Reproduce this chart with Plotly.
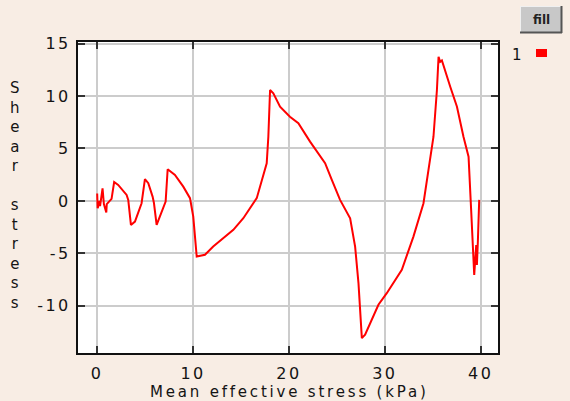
import plotly.graph_objects as go

# ---- data ----
mean_stress = [0, 0.05, 0.25, 0.3, 0.56, 0.7, 0.95, 1.0, 1.5, 1.77, 2.19, 3.07, 3.24, 3.52, 3.94,
               4.63, 4.98, 5.33, 5.78, 5.92, 6.2, 6.47, 7.0, 7.14, 7.35, 8.11, 8.98, 9.68,
               10.02, 10.2, 10.38, 11.24, 12.1, 14.2, 15.24, 16.64, 17.68, 17.85, 18.03, 18.37,
               19.07, 20.1, 20.98, 22.2, 23.77, 24.47, 25.33, 26.38, 26.9, 27.25, 27.42, 27.6,
               27.94, 29.33, 30.2, 31.77, 32.98, 34.03, 34.55, 35.07, 35.43, 35.6, 35.77, 35.95,
               36.82, 37.52, 38.2, 38.73, 39.0, 39.18, 39.32, 39.53, 39.6, 39.7, 39.84]
shear_stress = [0.7, -0.7, 0.0, -0.5, 1.2, -0.3, -1.1, -0.3, 0.2, 1.8, 1.52, 0.57, 0.1, -2.29, -1.97,
                -0.22, 2.07, 1.69, 0.41, -0.2, -2.29, -1.65, -0.54, -0.07, 3.02, 2.48, 1.36, 0.26,
                -1.5, -3.4, -5.3, -5.14, -4.35, -2.76, -1.65, 0.26, 3.59, 6.12, 10.57, 10.26,
                8.98, 8.03, 7.4, 5.65, 3.59, 2.0, 0.1, -1.65, -4.35, -7.84, -10.7, -13.08,
                -12.76, -9.9, -8.8, -6.57, -3.4, -0.22, 2.95, 6.12, 10.57, 13.74, 13.27, 13.4,
                10.88, 8.98, 6.12, 4.22, -0.86, -4.0, -7.05, -4.2, -6.1, -3.9, 0.1]
x_ticks = [0, 10, 20, 30, 40]
y_ticks = [-10, -5, 0, 5, 10, 15]
series_name = "1"
x_title = "Mean effective stress (kPa)"
y_title = "Shear stress"
button_label = "fill"

W, H = 570, 401
L, R, T, B = 78, 72, 42, 48
PW, PH = W - L - R, H - T - B


def px_x(px):
    return (px - L) / PW


def px_y(py):
    return (H - B - py) / PH


def spaced(s, sp):
    return '<span style="letter-spacing:%spx">%s</span>' % (sp, s)


FONT = "DejaVu Sans"
TXT = "#141414"

fig = go.Figure()
fig.add_trace(go.Scatter(x=mean_stress, y=shear_stress, mode="lines",
                         line=dict(color="#ff0000", width=2), name=series_name,
                         showlegend=False))

axis_common = dict(showgrid=True, gridcolor="#cccccc", gridwidth=2, zeroline=False,
                   showline=True, linecolor="#111111", linewidth=2, mirror="ticks",
                   ticks="inside", ticklen=7, tickwidth=1.5, tickcolor="#333333",
                   tickfont=dict(family=FONT, size=16, color=TXT))

fig.update_xaxes(range=[-2.0, 41.8], tickvals=x_ticks,
                 ticktext=[spaced(str(v), 2.5) for v in x_ticks],
                 ticklabelstandoff=5, **axis_common)
fig.update_yaxes(range=[-14.5, 15.15], tickvals=y_ticks,
                 ticktext=[spaced(str(v), 2.5) for v in y_ticks],
                 ticklabelstandoff=2, **axis_common)

annotations = [
    dict(text=spaced(x_title, 2.8), x=px_x(289), y=px_y(392), xref="paper", yref="paper",
         showarrow=False, font=dict(family=FONT, size=15, color=TXT),
         xanchor="center", yanchor="middle"),
    dict(text="<br>".join(y_title), x=px_x(15), y=px_y(195),
         xref="paper", yref="paper", showarrow=False,
         font=dict(family=FONT, size=15, color=TXT), xanchor="center", yanchor="middle"),
    dict(text=series_name, x=px_x(517), y=px_y(55), xref="paper", yref="paper",
         showarrow=False, font=dict(family=FONT, size=15, color=TXT),
         xanchor="center", yanchor="middle"),
    dict(text="<b>" + button_label + "</b>", x=px_x(541), y=px_y(20), xref="paper", yref="paper",
         showarrow=False, font=dict(family=FONT, size=12, color="#222222"),
         xanchor="center", yanchor="middle"),
]

shapes = [
    # legend swatch
    dict(type="rect", xref="paper", yref="paper", x0=px_x(536), x1=px_x(547),
         y0=px_y(57), y1=px_y(49), fillcolor="#ff0000", line=dict(width=0)),
    # button body
    dict(type="rect", xref="paper", yref="paper", x0=px_x(520), x1=px_x(562),
         y0=px_y(33), y1=px_y(6), fillcolor="#c8c8c8", line=dict(width=0)),
    dict(type="line", xref="paper", yref="paper", x0=px_x(520), x1=px_x(562),
         y0=px_y(6.5), y1=px_y(6.5), line=dict(color="#f0f0f0", width=1)),
    dict(type="line", xref="paper", yref="paper", x0=px_x(520.5), x1=px_x(520.5),
         y0=px_y(6), y1=px_y(33), line=dict(color="#f0f0f0", width=1)),
    dict(type="line", xref="paper", yref="paper", x0=px_x(520), x1=px_x(562),
         y0=px_y(32.5), y1=px_y(32.5), line=dict(color="#555555", width=2)),
    dict(type="line", xref="paper", yref="paper", x0=px_x(561.5), x1=px_x(561.5),
         y0=px_y(6), y1=px_y(33), line=dict(color="#555555", width=2)),
]

fig.update_layout(width=W, height=H, margin=dict(l=L, r=R, t=T, b=B),
                  paper_bgcolor="#f8ede4", plot_bgcolor="#ffffff",
                  annotations=annotations, shapes=shapes, showlegend=False)

fig.write_html("out.html")
